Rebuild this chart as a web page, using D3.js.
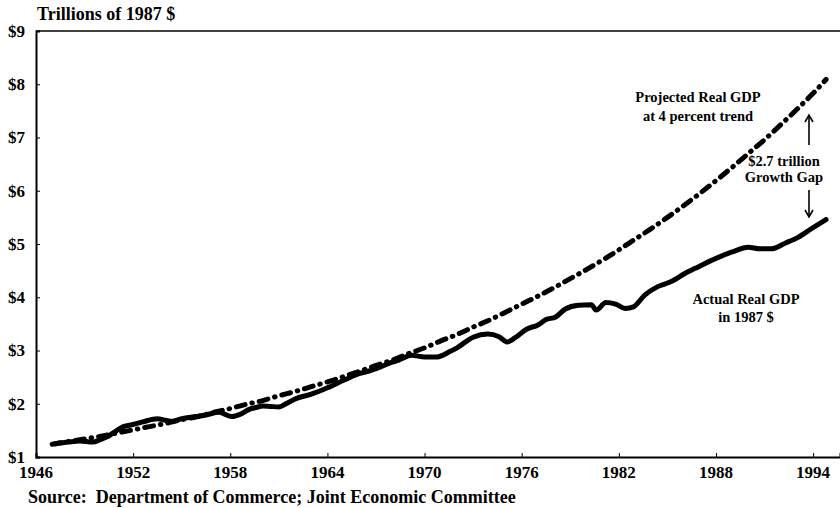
<!DOCTYPE html>
<html><head><meta charset="utf-8">
<script src="https://cdn.jsdelivr.net/npm/d3@7"></script>
<style>
html,body{margin:0;padding:0;background:#fff;}
svg text{font-family:"Liberation Serif","Times New Roman",serif;font-weight:bold;fill:#000;}
</style></head>
<body>
<script>
// ---- data (trillions of 1987 dollars) ----
const actualYears = [1947.2,1948.0,1948.7,1949.5,1950.0,1950.4,1951.0,1951.4,1952.0,1952.6,1953.5,1954.0,1954.4,1955.0,1955.9,1956.5,1957.3,1958.1,1958.6,1959.2,1959.6,1960.0,1960.5,1961.0,1961.5,1962.0,1963.0,1964.0,1965.0,1966.0,1966.4,1967.0,1968.0,1968.4,1969.2,1970.0,1970.8,1971.5,1972.0,1973.0,1973.9,1974.6,1975.1,1975.6,1976.3,1977.0,1977.5,1978.1,1978.7,1979.5,1980.3,1980.6,1981.2,1981.8,1982.4,1982.9,1983.6,1984.4,1985.2,1986.1,1986.9,1988.0,1989.0,1990.0,1990.7,1991.4,1992.3,1993.1,1993.9,1994.8];
const actualValues = [1.25,1.28,1.30,1.28,1.33,1.38,1.50,1.57,1.61,1.66,1.72,1.69,1.67,1.72,1.76,1.79,1.84,1.76,1.80,1.90,1.93,1.96,1.95,1.94,2.01,2.09,2.18,2.30,2.44,2.57,2.60,2.66,2.78,2.82,2.91,2.88,2.88,2.97,3.05,3.25,3.31,3.26,3.16,3.24,3.40,3.48,3.58,3.63,3.78,3.85,3.86,3.76,3.90,3.87,3.79,3.82,4.04,4.20,4.29,4.45,4.57,4.73,4.85,4.94,4.91,4.91,5.02,5.13,5.29,5.46];
const projYears = [1947,1948,1949,1950,1951,1952,1953,1954,1955,1956,1957,1958,1959,1960,1961,1962,1963,1964,1965,1966,1967,1968,1969,1970,1971,1972,1973,1974,1975,1976,1977,1978,1979,1980,1981,1982,1983,1984,1985,1986,1987,1988,1989,1990,1991,1992,1993,1994,1994.8];
const projValues = [1.24,1.29,1.34,1.39,1.45,1.51,1.57,1.63,1.70,1.76,1.84,1.91,1.99,2.06,2.15,2.23,2.32,2.41,2.51,2.61,2.72,2.82,2.94,3.05,3.18,3.30,3.44,3.57,3.72,3.87,4.02,4.18,4.35,4.52,4.70,4.89,5.09,5.29,5.50,5.72,5.95,6.19,6.44,6.70,6.96,7.24,7.53,7.83,8.09];
const xTicks = [1946,1952,1958,1964,1970,1976,1982,1988,1994];
const yTicks = [1,2,3,4,5,6,7,8,9];
const yTickLabels = ["$1","$2","$3","$4","$5","$6","$7","$8","$9"];

const W = 840, H = 508;
const svg = d3.select("body").append("svg").attr("width", W).attr("height", H);

const x = d3.scaleLinear().domain([1946, 1995.66]).range([36, 840]);
const y = d3.scaleLinear().domain([1, 9]).range([457, 31]);

// frame
svg.append("line").attr("x1", 36).attr("x2", 840).attr("y1", 31).attr("y2", 31)
  .attr("stroke", "#000").attr("stroke-width", 1.5);

// y axis (ticks pointing inward)
const yAxis = d3.axisRight(y).tickValues(yTicks).tickSize(4).tickFormat(() => "");
const gy = svg.append("g").attr("transform", "translate(36,0)").call(yAxis);
gy.select(".domain").attr("stroke-width", 2);
svg.append("g").selectAll("text").data(yTicks).join("text")
  .attr("x", 25).attr("y", d => y(d)).attr("dy", "0.35em")
  .attr("text-anchor", "end").style("font-size", "17px")
  .text((d, i) => yTickLabels[i]);

// x axis (ticks pointing upward)
const xAxis = d3.axisTop(x).tickValues(xTicks).tickSize(4).tickFormat(() => "");
const gx = svg.append("g").attr("transform", "translate(0,457)").call(xAxis);
gx.select(".domain").attr("stroke-width", 2);
svg.append("g").selectAll("text").data(xTicks).join("text")
  .attr("x", d => x(d)).attr("y", 478).attr("text-anchor", "middle")
  .style("font-size", "17px").text(d => d);

// lines
const line = d3.line().x(d => x(d[0])).y(d => y(d[1])).curve(d3.curveMonotoneX);
svg.append("path").datum(projYears.map((t, i) => [t, projValues[i]]))
  .attr("d", line).attr("fill", "none").attr("stroke", "#000")
  .attr("stroke-width", 5).attr("stroke-linecap", "round")
  .attr("stroke-dasharray", "9,7,0.5,7");
svg.append("path").datum(actualYears.map((t, i) => [t, actualValues[i]]))
  .attr("d", line).attr("fill", "none").attr("stroke", "#000")
  .attr("stroke-width", 5).attr("stroke-linejoin", "round").attr("stroke-linecap", "round");

// titles
svg.append("text").attr("x", 37).attr("y", 20).style("font-size", "18px").text("Trillions of 1987 $");
svg.append("text").attr("x", 28).attr("y", 503).style("font-size", "18px")
  .attr("xml:space", "preserve").style("white-space", "pre")
  .text("Source:  Department of Commerce; Joint Economic Committee");

// annotations
function label(cx, lines, y0, dy) {
  const t = svg.append("text").attr("text-anchor", "middle").style("font-size", "14.5px");
  lines.forEach((s, i) => t.append("tspan").attr("x", cx).attr("y", y0 + i * dy).text(s));
}
label(698, ["Projected Real GDP", "at 4 percent trend"], 102, 19);
label(784, ["$2.7 trillion", "Growth Gap"], 166, 16);
label(746, ["Actual Real GDP", "in 1987 $"], 304, 18);

// arrows
const ax = 809;
function arrow(y1, y2) {
  svg.append("line").attr("x1", ax).attr("x2", ax).attr("y1", y1).attr("y2", y2)
    .attr("stroke", "#000").attr("stroke-width", 1.6);
  const s = y2 < y1 ? 1 : -1;
  svg.append("path").attr("d", `M${ax-4},${y2 + s*7} L${ax},${y2} L${ax+4},${y2 + s*7}`)
    .attr("fill", "none").attr("stroke", "#000").attr("stroke-width", 1.6);
}
arrow(145, 115);
arrow(190, 217);
</script>
</body></html>
